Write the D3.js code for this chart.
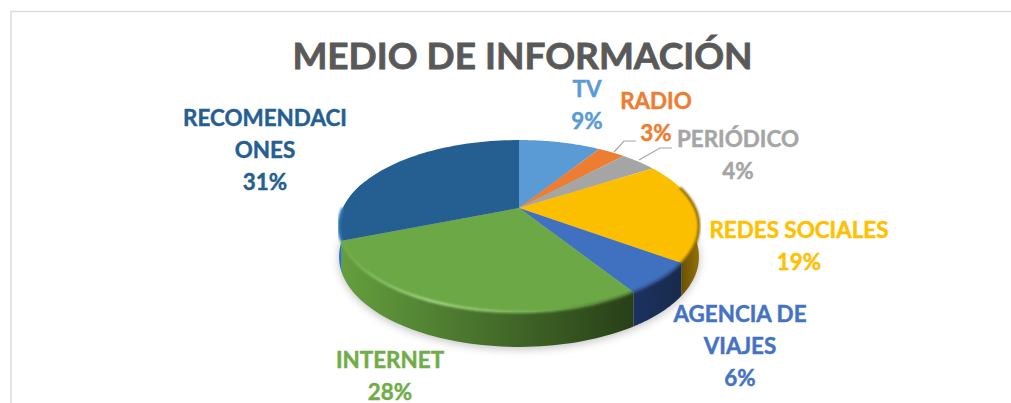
<!DOCTYPE html>
<html><head><meta charset="utf-8">
<script src="https://cdn.jsdelivr.net/npm/d3@7/dist/d3.min.js"></script>
<style>html,body{margin:0;padding:0;background:#fff}svg{display:block}text{font-family:Lato,"Open Sans",sans-serif;font-weight:700}</style>
</head><body><script>
const categories = ["TV","RADIO","PERIÓDICO","REDES SOCIALES","AGENCIA DE VIAJES","INTERNET","RECOMENDACIONES"];
const values = [9,3,4,19,6,28,31];
const colors = ["#5b9bd5","#ed7d31","#a5a5a5","#fcbf00","#4070c0","#6ca845","#255e91"];
const labelColors = ["#5b9bd5","#ed7d31","#a5a5a5","#ffc000","#4472c4","#70ad47","#255e91"];
const wallLight = ["#5b9bd5","#ed7d31","#a5a5a5","#94700a","#1c3160","#649f3e","#2f79b8"];
const wallDark = ["#2e4e6b","#773f19","#535353","#6b5000","#182b4c","#283f18","#1d4a73"];
const labelLines = [["TV","9%"],["RADIO","3%"],["PERIÓDICO","4%"],["REDES SOCIALES","19%"],["AGENCIA DE","VIAJES","6%"],["INTERNET","28%"],["RECOMENDACI","ONES","31%"]];
const labelAnchors = [[587,97],[656,109],[738,147],[799,238],[740,322],[390,368],[265,126]];
const leaders = [null,[[614,152],[624,141],[636,141]],[[639,160],[660,148],[672,148]],null,null,null,null];
const titleText = "MEDIO DE INFORMACIÓN";

const W=1011,H=403;
const svg=d3.select("body").append("svg").attr("width",W).attr("height",H);
const defs=svg.append("defs");
const cx=519,cy=208,kx=176,ky=82.2,persp=0.209,depth=35;
const project=(a,d=0)=>{const u=Math.sin(a),v=-Math.cos(a),q=1-persp*v;
  return [cx+kx*u/q, cy+ky*v/q+d*(0.85+0.15*v)];};
const line=d3.line();
const arcPts=(a0,a1,d=0)=>d3.range(0,61).map(i=>project(a0+(a1-a0)*i/60,d));
const arcs=d3.pie().sort(null).value(d=>d)(values);
const PI=Math.PI;

svg.append("path").attr("d","M1011,11.5H11V403").attr("fill","none").attr("stroke","#dcdcdc").attr("stroke-width",1.6);

defs.append("filter").attr("id","soft").attr("x","-20%").attr("y","-20%").attr("width","140%").attr("height","140%")
  .append("feGaussianBlur").attr("stdDeviation",5);
defs.append("filter").attr("id","bevel").attr("x","-10%").attr("y","-10%").attr("width","120%").attr("height","120%")
  .append("feGaussianBlur").attr("stdDeviation",1.1);

svg.append("path").attr("d",line(arcPts(0,2*PI,depth+2))+"Z").attr("fill","#000").attr("opacity",0.25).attr("filter","url(#soft)");

arcs.forEach((s,i)=>{
  const lo=Math.max(s.startAngle,0.44*PI), hi=Math.min(s.endAngle,1.6*PI);
  if(hi<=lo) return;
  const top=arcPts(lo,hi), bot=arcPts(lo,hi,depth).reverse();
  const xs=top.map(p=>p[0]);
  const id="w"+i;
  const g=defs.append("linearGradient").attr("id",id).attr("gradientUnits","userSpaceOnUse")
    .attr("x1",d3.min(xs)).attr("x2",d3.max(xs)).attr("y1",0).attr("y2",0);
  const flip=i===3;
  g.append("stop").attr("offset",0).attr("stop-color",flip?wallDark[i]:wallLight[i]);
  g.append("stop").attr("offset",1).attr("stop-color",flip?wallLight[i]:wallDark[i]);
  svg.append("path").attr("d",line(top.concat(bot))+"Z").attr("fill",`url(#${id})`);
});

arcs.forEach((s,i)=>{
  const pts=[[cx,cy]].concat(arcPts(s.startAngle,s.endAngle));
  svg.append("path").attr("d",line(pts)+"Z").attr("fill",colors[i]);
});

const rim=svg.append("g");
const rimG=defs.append("linearGradient").attr("id","rimg").attr("gradientUnits","userSpaceOnUse").attr("x1",340).attr("x2",640).attr("y1",0).attr("y2",0);
rimG.append("stop").attr("offset",0).attr("stop-color","#6ca845");
rimG.append("stop").attr("offset",0.3).attr("stop-color","#a6d88a");
rimG.append("stop").attr("offset",0.65).attr("stop-color","#76b252");
rimG.append("stop").attr("offset",1).attr("stop-color","#3c5f26");
rim.append("path").attr("d",line(arcPts(arcs[5].startAngle,arcs[5].endAngle))).attr("fill","none")
  .attr("stroke","url(#rimg)").attr("stroke-width",2.6).attr("filter","url(#bevel)");
rim.append("path").attr("d",line(arcPts(arcs[3].startAngle+0.3,arcs[3].endAngle))).attr("fill","none")
  .attr("stroke","#8a6800").attr("stroke-width",2.6).attr("filter","url(#bevel)");
rim.append("path").attr("d",line(arcPts(arcs[4].startAngle,arcs[4].endAngle))).attr("fill","none")
  .attr("stroke","#2c4c86").attr("stroke-width",2.6).attr("filter","url(#bevel)");
rim.append("path").attr("d",line(arcPts(arcs[6].startAngle,arcs[6].startAngle+0.38))).attr("fill","none")
  .attr("stroke","#2f79b8").attr("stroke-width",3).attr("filter","url(#bevel)");

leaders.forEach(l=>{ if(l) svg.append("path").attr("d",line(l)).attr("fill","none").attr("stroke","#a6a6a6").attr("stroke-width",1.2); });

const lh=32;
labelLines.forEach((ls,i)=>{
  const t=svg.append("text").attr("text-anchor","middle").attr("fill",labelColors[i]).attr("stroke",labelColors[i]).attr("stroke-width",0.45).attr("font-size",22.4);
  ls.forEach((s,j)=>t.append("tspan").attr("x",labelAnchors[i][0]).attr("y",labelAnchors[i][1]+j*lh).text(s));
});

svg.append("text").attr("x",522.5).attr("y",69).attr("text-anchor","middle").attr("font-size",37).attr("fill","#595959").attr("stroke","#595959").attr("stroke-width",0.8).text(titleText);
</script></body></html>
